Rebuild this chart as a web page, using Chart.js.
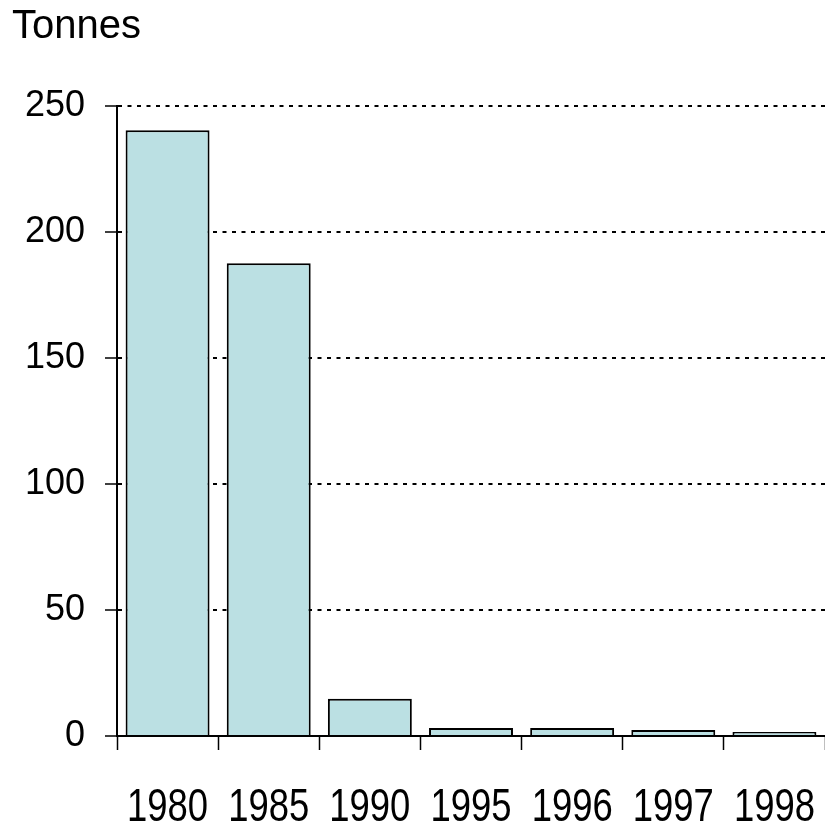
<!DOCTYPE html>
<html>
<head>
<meta charset="utf-8">
<script src="https://cdn.jsdelivr.net/npm/chart.js@4.4.0/dist/chart.umd.min.js"></script>
<style>
  html, body { margin: 0; padding: 0; background: #fff; }
  #wrap { width: 825px; height: 823px; }
</style>
</head>
<body>
<div id="wrap"><canvas id="tonnesChart" width="825" height="823"></canvas></div>
<script>
// values
const years = ["1980", "1985", "1990", "1995", "1996", "1997", "1998"];
const tonnes = [240.4, 187.6, 14.8, 3.2, 3.2, 2.4, 1.6];
const yTicks = [0, 50, 100, 150, 200, 250];

// unit label + narrow year labels (the originals are horizontally squeezed)
const extraText = {
  id: "extraText",
  afterDraw(chart) {
    const c = chart.ctx;
    c.save();
    c.fillStyle = "#000";
    c.font = "40px 'Liberation Sans', Arial, sans-serif";
    c.textBaseline = "alphabetic";
    c.fillText("Tonnes", 12, 38);

    const xs = chart.scales.x;
    c.font = "47px 'Liberation Sans', Arial, sans-serif";
    c.textAlign = "center";
    xs.ticks.forEach((t, i) => {
      const px = xs.getPixelForTick(i);
      c.save();
      c.translate(px, 821);
      c.scale(0.775, 1);
      c.fillText(xs.getLabelForValue(t.value), 0, 0);
      c.restore();
    });
    c.restore();
  }
};

const ctx = document.getElementById("tonnesChart").getContext("2d");
new Chart(ctx, {
  type: "bar",
  data: {
    labels: years,
    datasets: [{
      data: tonnes,
      backgroundColor: "#bbe0e3",
      borderColor: "#000",
      borderWidth: 2,
      categoryPercentage: 1,
      barPercentage: 0.83
    }]
  },
  options: {
    responsive: false,
    animation: false,
    layout: { padding: { top: 106, right: -2, left: 0, bottom: 0 } },
    plugins: { legend: { display: false }, tooltip: { enabled: false } },
    scales: {
      x: {
        offset: true,
        grid: {
          offset: true,
          drawOnChartArea: false,
          tickLength: 14,
          tickWidth: 1.5,
          tickColor: "#000"
        },
        border: { color: "#000", width: 2 },
        ticks: { display: false, autoSkip: false },
        afterFit(scale) { scale.height = 87; }
      },
      y: {
        min: 0,
        max: 250,
        afterBuildTicks(scale) { scale.ticks = yTicks.map(v => ({ value: v })); },
        grid: {
          color: "#000",
          lineWidth: 2,
          tickLength: 12,
          tickWidth: 1.5,
          tickColor: "#000"
        },
        border: { color: "#000", width: 2, dash: [4, 5.5] },
        ticks: {
          color: "#000",
          padding: 20,
          font: { family: "'Liberation Sans', Arial, sans-serif", size: 36 }
        },
        afterFit(scale) { scale.width = 117; }
      }
    }
  },
  plugins: [extraText]
});
</script>
</body>
</html>
